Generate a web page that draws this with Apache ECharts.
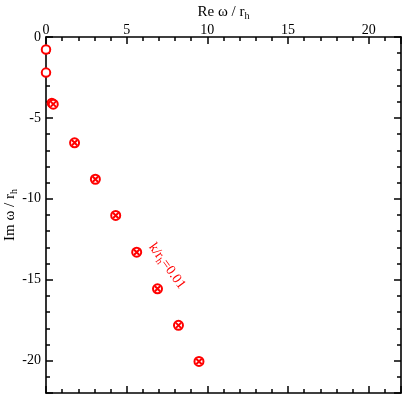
<!DOCTYPE html>
<html><head><meta charset="utf-8">
<script src="https://cdn.jsdelivr.net/npm/echarts@6/dist/echarts.min.js"></script>
<style>html,body{margin:0;padding:0;background:#fff}#c{width:405px;height:396px}</style>
</head><body><div id="c"></div>
<script>
// data (Re ω / r_h, Im ω / r_h)
const openRe = [0.0, 0.0, 0.36];
const openIm = [-0.77, -2.2, -4.08];
const crossRe = [0.45, 1.77, 3.06, 4.32, 5.62, 6.91, 8.21, 9.48];
const crossIm = [-4.15, -6.54, -8.79, -11.03, -13.3, -15.56, -17.82, -20.05];
const xTickLabels = [0, 5, 10, 15, 20];
const yTickLabels = [0, -5, -10, -15, -20];
const xRange = [0, 22];
const yRange = [-22, 0];

const FONT = 'Liberation Serif';
const RED = '#ff0000';
const chart = echarts.init(document.getElementById('c'), null, {renderer: 'canvas'});

const nameRich = {a: {fontFamily: FONT, fontSize: 15, color: '#000'}, s: {fontFamily: FONT, fontSize: 10, color: '#000', verticalAlign: 'bottom', padding: [8, 0, 0, 0]}};

function xAxisDef(grid, pos, major, labels) {
  return {
    type: 'value', gridIndex: grid, position: pos, min: xRange[0], max: xRange[1],
    interval: major ? 5 : 1,
    axisLine: {show: major, onZero: false, lineStyle: {color: '#000', width: 1.6}},
    axisTick: {show: true, inside: true, length: major ? 7 : 4, lineStyle: {color: '#000', width: 1.5}},
    splitLine: {show: false},
    axisLabel: labels ? {
      show: true, color: '#000', fontFamily: FONT, fontSize: 14, margin: 0,
      formatter: v => xTickLabels.indexOf(v) >= 0 ? String(v) : ''
    } : {show: false},
    name: labels ? '{a|Re ω / r}{s|h}' : '',
    nameLocation: 'middle', nameGap: 16, nameMoveOverlap: false,
    nameTextStyle: {rich: nameRich}
  };
}
// y axes drawn inverted over |Im| so major ticks start at a multiple of 5
function yAxisDef(grid, pos, major, labels) {
  return {
    type: 'value', gridIndex: grid, position: pos, inverse: true, min: -yRange[1], max: -yRange[0],
    interval: major ? 5 : 1,
    axisLine: {show: major, onZero: false, lineStyle: {color: '#000', width: 1.6}},
    axisTick: {show: true, inside: true, length: major ? 7 : 4, lineStyle: {color: '#000', width: 1.5}},
    splitLine: {show: false},
    axisLabel: labels ? {
      show: true, color: '#000', fontFamily: FONT, fontSize: 14, margin: 5,
      formatter: v => { const s = -v; return yTickLabels.indexOf(s) >= 0 ? (s === 0 ? '0' : String(s)) : ''; }
    } : {show: false},
    name: labels ? '{a|Im ω / r}{s|h}' : '',
    nameLocation: 'middle', nameGap: 27, nameRotate: 90, nameMoveOverlap: false,
    nameTextStyle: {rich: nameRich}
  };
}

const crossPath = 'path://M0,0L10,10M10,0L0,10';
const gridBox = {left: 46, top: 37, right: 4, bottom: 3, containLabel: false, outerBoundsMode: 'none'};

chart.setOption({
  animation: false,
  backgroundColor: '#fff',
  grid: [Object.assign({}, gridBox), Object.assign({}, gridBox)],
  xAxis: [
    xAxisDef(0, 'top', true, true), xAxisDef(0, 'bottom', true, false),
    xAxisDef(1, 'top', false, false), xAxisDef(1, 'bottom', false, false)
  ],
  yAxis: [
    yAxisDef(0, 'left', true, true), yAxisDef(0, 'right', true, false),
    yAxisDef(1, 'left', false, false), yAxisDef(1, 'right', false, false)
  ],
  series: [
    {
      type: 'scatter', xAxisIndex: 0, yAxisIndex: 0,
      data: openRe.map((r, i) => [r, -openIm[i]]),
      symbol: 'emptyCircle', symbolSize: 8.5,
      itemStyle: {color: RED, borderColor: RED, borderWidth: 2, opacity: 1}
    },
    {
      type: 'scatter', xAxisIndex: 0, yAxisIndex: 0,
      data: crossRe.map((r, i) => [r, -crossIm[i]]),
      symbol: 'emptyCircle', symbolSize: 9,
      itemStyle: {color: RED, borderColor: RED, borderWidth: 2.8, opacity: 1}
    },
    {
      type: 'scatter', xAxisIndex: 0, yAxisIndex: 0,
      data: crossRe.map((r, i) => [r, -crossIm[i]]),
      symbol: crossPath, symbolSize: 5.5,
      itemStyle: {color: 'none', borderColor: RED, borderWidth: 2, opacity: 1}
    }
  ],
  graphic: [{
    type: 'text', x: 167, y: 266, rotation: -54 * Math.PI / 180,
    style: {
      text: '{a|k/r}{s|h}{a|=0.01}',
      align: 'center', verticalAlign: 'middle',
      rich: {
        a: {fontFamily: FONT, fontSize: 14, fill: RED, color: RED},
        s: {fontFamily: FONT, fontSize: 10, fill: RED, color: RED, verticalAlign: 'bottom', padding: [8, 0, 0, 0]}
      }
    }
  }]
});
</script></body></html>
